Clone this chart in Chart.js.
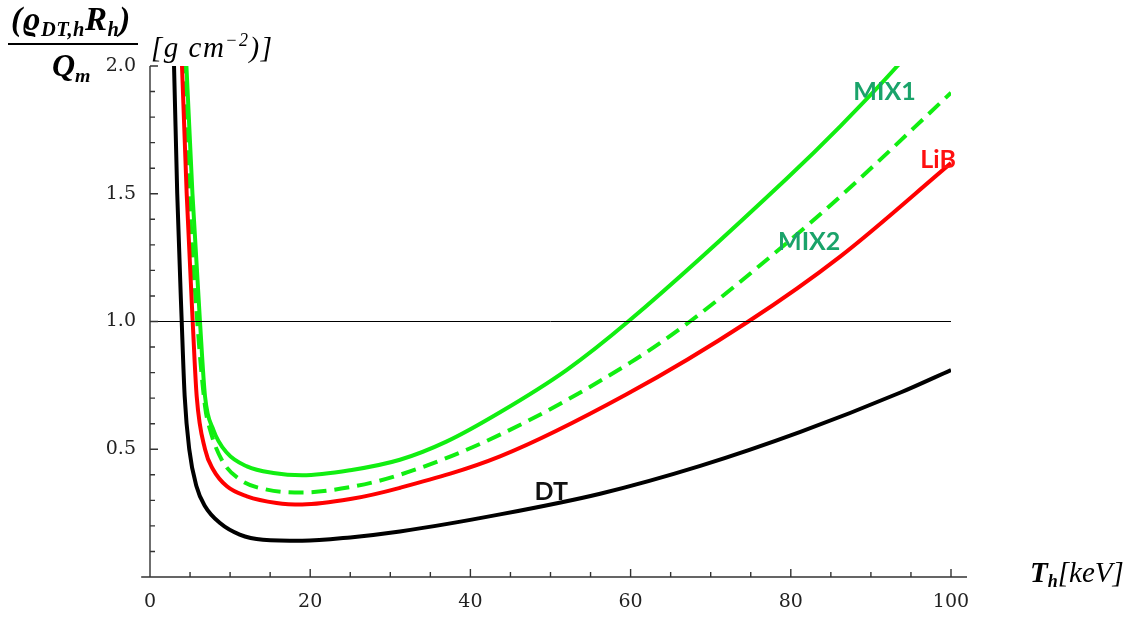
<!DOCTYPE html>
<html>
<head>
<meta charset="utf-8">
<script src="https://cdn.jsdelivr.net/npm/chart.js@4.4.1/dist/chart.umd.min.js"></script>
<style>
  body { margin: 0; background: #fff; }
  #wrap { position: relative; width: 1138px; height: 619px; }
  canvas { position: absolute; left: 0; top: 0; }
  .tx { position: absolute; font-family: "Liberation Serif", "DejaVu Serif", serif; color: #000; white-space: nowrap; }
  .bi { font-weight: bold; font-style: italic; }
  .it { font-style: italic; }
  sub { font-size: 62%; vertical-align: -0.3em; }
  sup { font-size: 62%; vertical-align: 0.6em; }
</style>
</head>
<body>
<div id="wrap">
  <canvas id="myChart" width="1138" height="619"></canvas>
  <!-- y axis title, a fraction -->
  <div class="tx bi" style="left:11px; top:1px; font-size:33px; letter-spacing:0.5px;">(ϱ<sub>DT,h</sub>R<sub>h</sub>)</div>
  <div style="position:absolute; left:8px; top:43px; width:130px; height:2px; background:#000;"></div>
  <div class="tx bi" style="left:52px; top:47px; font-size:32px;">Q<sub>m</sub></div>
  <div class="tx it" style="left:151px; top:30px; font-size:29px; letter-spacing:1.5px;">[g cm<sup>−2</sup>)]</div>
  <!-- x axis title -->
  <div class="tx" style="left:1030px; top:556px; font-size:29px;"><span class="bi">T<sub>h</sub></span><span class="it">[keV]</span></div>
</div>
<script>
// temperature T_h [keV] and (rho R)/Q_m values
const dtT = [2.7, 3.0, 3.4, 3.96, 4.33, 4.9, 5.8, 6.87, 8.74, 11.2, 14.1, 19, 25, 31.2, 43.7, 56.2, 68.7, 81.2, 93.7, 100];
const dtV = [2.3, 2.0, 1.5, 1.0, 0.707, 0.5, 0.355, 0.277, 0.211, 0.166, 0.146, 0.142, 0.155, 0.178, 0.245, 0.326, 0.435, 0.568, 0.722, 0.81];

const libT = [3.7, 3.96, 4.58, 5.33, 5.83, 6.87, 7.9, 9.6, 12.1, 15.8, 19, 25, 31.2, 43.7, 59.5, 74.7, 86.2, 100];
const libV = [2.3, 2.03, 1.5, 1.0, 0.707, 0.5, 0.42, 0.355, 0.316, 0.29, 0.284, 0.305, 0.349, 0.472, 0.715, 1.0, 1.255, 1.62];

const mix1T = [4.2, 4.5, 5.3, 6.24, 6.87, 7.9, 9.6, 12.1, 15.4, 19, 25, 31.2, 37, 43.7, 52, 59.7, 79.5, 86.2, 93.3, 96];
const mix1V = [2.3, 2.03, 1.5, 1.0, 0.707, 0.577, 0.486, 0.433, 0.407, 0.398, 0.418, 0.459, 0.53, 0.645, 0.81, 1.0, 1.56, 1.765, 2.0, 2.1];

const mix2T = [4.0, 4.3, 4.9, 5.9, 6.87, 7.49, 8.95, 11.24, 14.6, 19, 25, 31.2, 43.7, 60, 67.4, 77.7, 86.2, 100];
const mix2V = [2.3, 2.0, 1.5, 1.0, 0.668, 0.577, 0.459, 0.381, 0.342, 0.331, 0.352, 0.40, 0.557, 0.84, 1.0, 1.26, 1.49, 1.895];

// reference line at 1
const refT = [0, 100];
const refV = [1, 1];

// curve labels (placed in data coordinates)
const labelNames = ['MIX1', 'MIX2', 'LiB', 'DT'];
const labelT = [91.7, 82.3, 98.4, 50.1];
const labelV = [1.897, 1.313, 1.631, 0.334];
const labelColors = ['#1aa36a', '#1aa36a', '#ff1010', '#111'];

const xTicks = [0, 20, 40, 60, 80, 100];
const yTicks = [0.5, 1.0, 1.5, 2.0];

function pts(xs, ys) {
  return xs.map((x, i) => ({ x: x, y: ys[i] }));
}

// inner tick marks, axis lines and curve labels
const axesPlugin = {
  id: 'axesPlugin',
  afterDatasetsDraw(chart) {
    const ctx = chart.ctx;
    const xs = chart.scales.x, ys = chart.scales.y;
    const y0 = ys.getPixelForValue(0);
    const x0 = xs.getPixelForValue(0);
    ctx.save();
    ctx.strokeStyle = '#333';
    ctx.lineWidth = 1.4;
    ctx.beginPath();
    ctx.moveTo(xs.getPixelForValue(-1.1), y0);
    ctx.lineTo(xs.getPixelForValue(102), y0);
    ctx.moveTo(x0, y0);
    ctx.lineTo(x0, ys.getPixelForValue(2));
    for (let t = 5; t <= 100; t += 5) {
      const px = xs.getPixelForValue(t);
      const len = t % 20 === 0 ? 8 : 5;
      ctx.moveTo(px, y0);
      ctx.lineTo(px, y0 - len);
    }
    for (let k = 1; k <= 20; k++) {
      const py = ys.getPixelForValue(k / 10);
      const len = k % 5 === 0 ? 8 : 5;
      ctx.moveTo(x0, py);
      ctx.lineTo(x0 + len, py);
    }
    ctx.stroke();

    ctx.font = 'bold 25px Lato';
    ctx.textAlign = 'center';
    ctx.textBaseline = 'middle';
    for (let i = 0; i < labelNames.length; i++) {
      ctx.fillStyle = labelColors[i];
      ctx.fillText(labelNames[i], xs.getPixelForValue(labelT[i]), ys.getPixelForValue(labelV[i]));
    }
    ctx.restore();
  }
};

const ctx = document.getElementById('myChart').getContext('2d');
const myChart = new Chart(ctx, {
  type: 'line',
  data: {
    datasets: [
      { label: 'ref', data: pts(refT, refV), borderColor: '#000', borderWidth: 1, pointRadius: 0 },
      { label: 'DT', data: pts(dtT, dtV), borderColor: '#000', borderWidth: 4, pointRadius: 0, cubicInterpolationMode: 'monotone' },
      { label: 'LiB', data: pts(libT, libV), borderColor: '#ff0000', borderWidth: 4, pointRadius: 0, cubicInterpolationMode: 'monotone' },
      { label: 'MIX2', data: pts(mix2T, mix2V), borderColor: '#11ee11', borderWidth: 4, borderDash: [15, 8], pointRadius: 0, cubicInterpolationMode: 'monotone' },
      { label: 'MIX1', data: pts(mix1T, mix1V), borderColor: '#11ee11', borderWidth: 4, pointRadius: 0, cubicInterpolationMode: 'monotone' }
    ]
  },
  options: {
    responsive: false,
    animation: false,
    devicePixelRatio: 1,
    layout: { padding: { top: 66, left: 0, right: 187, bottom: 0 } },
    plugins: { legend: { display: false }, tooltip: { enabled: false } },
    scales: {
      x: {
        type: 'linear',
        min: 0,
        max: 100,
        grid: { display: false, drawTicks: false },
        border: { display: false },
        afterBuildTicks: (scale) => { scale.ticks = xTicks.map(v => ({ value: v })); },
        afterFit: (scale) => { scale.height = 42; },
        ticks: { padding: 14, color: '#222', font: { family: 'DejaVu Serif', size: 19 }, maxRotation: 0 }
      },
      y: {
        type: 'linear',
        min: 0,
        max: 2,
        grid: { display: false, drawTicks: false },
        border: { display: false },
        afterBuildTicks: (scale) => { scale.ticks = yTicks.map(v => ({ value: v })); },
        afterFit: (scale) => { scale.width = 150; },
        ticks: { padding: 14, color: '#222', font: { family: 'DejaVu Serif', size: 19 }, callback: (v) => v.toFixed(1) }
      }
    }
  },
  plugins: [axesPlugin]
});
</script>
</body>
</html>
